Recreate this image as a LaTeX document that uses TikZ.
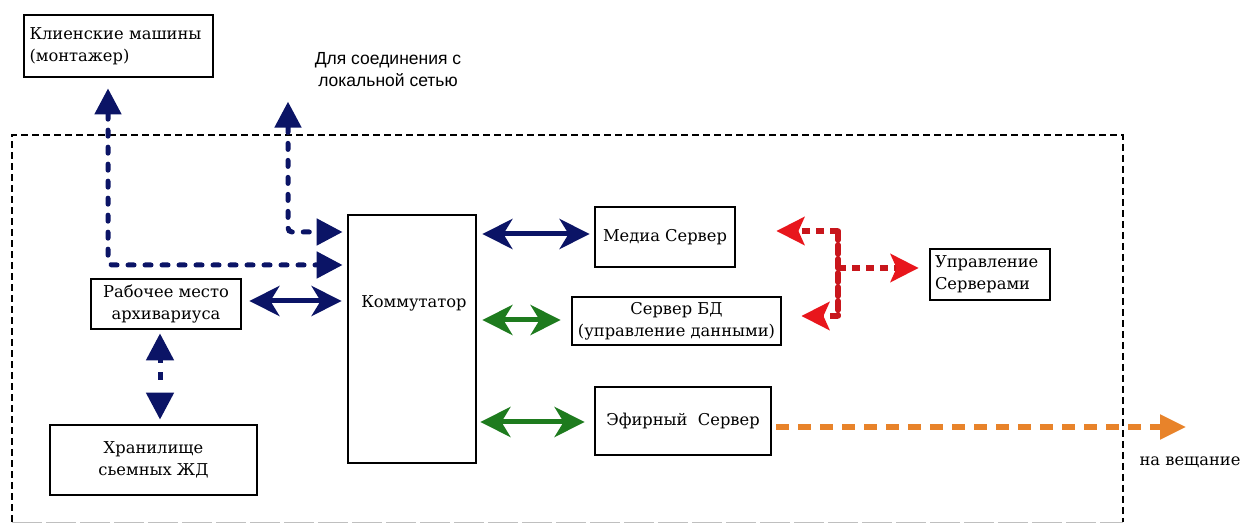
\documentclass[tikz,border=0pt]{standalone}
\usepackage{fontspec}
\setmainfont{DejaVu Serif}
\newfontfamily\lsans{Liberation Sans}
\usetikzlibrary{arrows.meta}
\definecolor{navy}{HTML}{0B1466}
\definecolor{grn}{HTML}{1E7B1E}
\definecolor{redl}{HTML}{C8161C}
\definecolor{redh}{HTML}{E8161C}
\definecolor{orng}{HTML}{E8832A}
\tikzset{
  box/.style={draw, line width=2.8pt, inner sep=0pt, font=\fontsize{16.3}{22}\selectfont},
  lbl/.style={font=\fontsize{16.3}{22}\selectfont},
  dbl/.style={line width=5pt, {Stealth[length=30pt,width=30pt,inset=9pt]}-{Stealth[length=30pt,width=30pt,inset=9pt]}},
  bluedash/.style={navy, line width=5pt, line cap=round, dash pattern=on 6pt off 11pt, rounded corners=4pt,
     {Triangle[length=26pt,width=26pt]}-{Triangle[length=26pt,width=26pt]}},
  reddot/.style={redl, line width=5.5pt, dash pattern=on 9pt off 5pt},
  redarr/.style={redl, line width=5.5pt, dash pattern=on 8pt off 6pt, -{Stealth[length=28pt,width=28pt,inset=6pt,fill=redh,color=redh]}},
}
\begin{document}
\begin{tikzpicture}[x=1pt,y=-1pt]
\useasboundingbox (0,0) rectangle (1243,526);
\fill[white] (0,0) rectangle (1243,526);
% boundary
\draw[line width=1.2pt, dash pattern=on 7pt off 4pt] (12,522) -- (12,135) -- (1123,135) -- (1123,522);
\draw[line width=0.6pt, black!25, dash pattern=on 30pt off 4pt] (12,522) -- (1123,522);
% nodes
\node[box, minimum width=189pt, minimum height=62pt, text width=178pt, align=left] (kl) at (118.5,46) {Клиенские машины\\(монтажер)};
\node[font=\lsans\fontsize{17.5}{22}\selectfont, align=center] (loc) at (388,70) {Для соединения с\\локальной сетью};
\node[box, minimum width=128pt, minimum height=248pt] (kom) at (412,339) {};
\node[lbl] (komt) at (414,303) {Коммутатор};
\node[box, minimum width=140pt, minimum height=60pt] (media) at (665,237) {Медиа Сервер};
\node[box, minimum width=209pt, minimum height=48pt, align=center] (bd) at (676.5,321) {Сервер БД\\(управление данными)};
\node[box, minimum width=176pt, minimum height=68pt] (efir) at (683,421) {Эфирный\ \ Сервер};
\node[box, minimum width=120pt, minimum height=51pt, text width=110pt, align=left] (upr) at (990,274.5) {Управление\\Серверами};
\node[box, minimum width=150pt, minimum height=50pt, align=center] (rab) at (166,304) {Рабочее место\\архивариуса};
\node[box, minimum width=207pt, minimum height=70pt, align=center] (hran) at (153.5,460) {Хранилище\\сьемных ЖД};
\node[lbl] (nav) at (1190,462) {на вещание};
% coordinates
\coordinate (c1) at (108,265);
\coordinate (c2) at (288,232);
\coordinate (c3) at (160,0);
\coordinate (r1) at (838,231);
\coordinate (r2) at (838,316);
\coordinate (r3) at (838,268);
\coordinate (o1) at (1186,427);
% connectors
\draw[bluedash, shorten <=10pt, shorten >=4pt] (c1 |- kl.south) -- (c1) -- (c1 -| kom.west);
\draw[bluedash, shorten <=11pt, shorten >=4pt] (c2 |- loc.south) -- (c2) -- (c2 -| kom.west);
\draw[navy, dbl, shorten <=7pt, shorten >=5pt] (rab.east |- 0,301) -- (kom.west |- 0,301);
\draw[navy, dbl, shorten <=5pt, shorten >=4pt] (kom.east |- 0,234) -- (media.west |- 0,234);
\draw[grn, dbl, shorten <=5pt, shorten >=10pt] (kom.east |- 0,320) -- (bd.west |- 0,320);
\draw[grn, dbl, shorten <=3pt, shorten >=9pt] (kom.east |- 0,422) -- (efir.west |- 0,422);
\draw[navy, line width=5pt, dash pattern=on 4pt off 9pt on 8pt off 40pt,
  {Triangle[length=27pt,width=27pt]}-{Triangle[length=27pt,width=27pt]}, shorten <=3pt, shorten >=4pt]
  (rab.south -| c3) -- (hran.north -| c3);
% red
\draw[reddot, line cap=round] (r1) -- (r2);
\draw[redarr, shorten >=40pt] (r1) -- (r1 -| media.east);
\draw[redarr, shorten >=19pt] (r2) -- (r2 -| bd.east);
\draw[redarr, shorten >=10pt] (r3) -- (r3 -| upr.west);
% orange
\draw[orng, line width=5.5pt, dash pattern=on 13pt off 9pt, -{Triangle[length=26pt,width=24pt]}, shorten <=4pt] (efir.east |- o1) -- (o1);
\end{tikzpicture}
\end{document}
